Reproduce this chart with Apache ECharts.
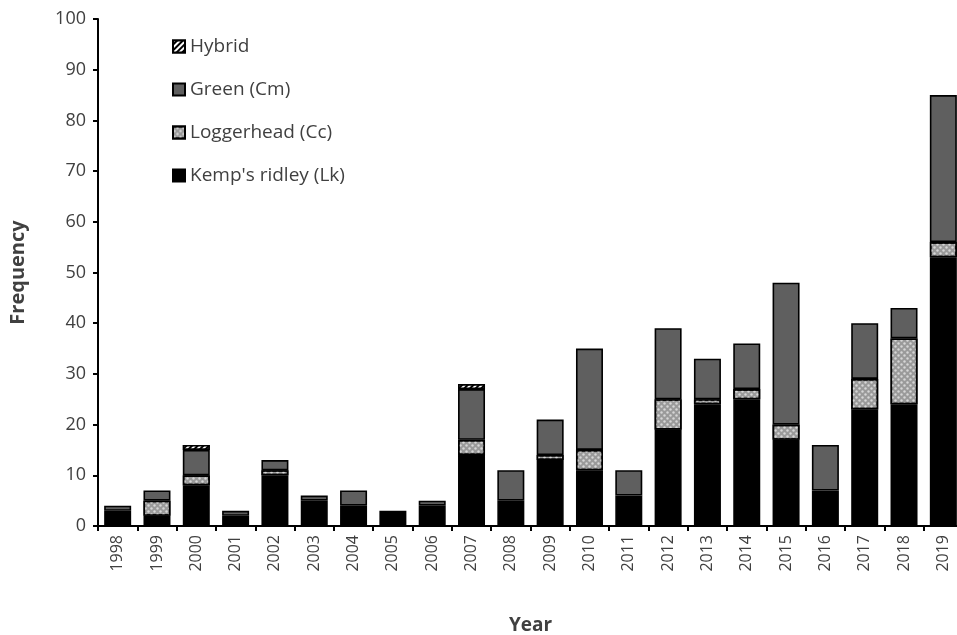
<!DOCTYPE html>
<html>
<head>
<meta charset="utf-8">
<style>
  html, body { margin: 0; padding: 0; background: #fff; }
  #chart { width: 957px; height: 635px; }
</style>
<script src="https://cdn.jsdelivr.net/npm/echarts@6/dist/echarts.min.js"></script>
</head>
<body>
<div id="chart"></div>
<script>
// Sea turtle strandings per year, by species
const years = ['1998','1999','2000','2001','2002','2003','2004','2005','2006','2007','2008',
               '2009','2010','2011','2012','2013','2014','2015','2016','2017','2018','2019'];
const kempsRidley = [3, 2, 8, 2, 10, 5, 4, 3, 4, 14, 5, 13, 11, 6, 19, 24, 25, 17, 7, 23, 24, 53];
const loggerhead  = [0, 3, 2, 0, 1, 0, 0, 0, 0, 3, 0, 1, 4, 0, 6, 1, 2, 3, 0, 6, 13, 3];
const green       = [1, 2, 5, 1, 2, 1, 3, 0, 1, 10, 6, 7, 20, 5, 14, 8, 9, 28, 9, 11, 6, 29];
const hybrid      = [0, 0, 1, 0, 0, 0, 0, 0, 0, 1, 0, 0, 0, 0, 0, 0, 0, 0, 0, 0, 0, 0];
const yTicks = { min: 0, max: 100, step: 10 };

const FONT = '"Open Sans", "Noto Sans", sans-serif';
const border = { borderColor: '#000', borderWidth: 1.6 };

function bar(name, data, style) {
  return {
    name: name,
    type: 'bar',
    stack: 'species',
    data: data.map(v => (v === 0 ? null : v)),
    barWidth: 27,
    itemStyle: Object.assign({}, border, style),
    emphasis: { disabled: true }
  };
}

const chart = echarts.init(document.getElementById('chart'), null, { renderer: 'canvas' });
chart.setOption({
  animation: false,
  aria: { enabled: false },
  grid: { left: 98, top: 19, width: 865, height: 507, containLabel: false, outerBoundsMode: 'none' },
  legend: {
    orient: 'vertical',
    left: 167,
    top: 32,
    itemWidth: 12,
    itemHeight: 12,
    itemGap: 24,
    icon: 'rect',
    data: ['Hybrid', 'Green (Cm)', 'Loggerhead (Cc)', "Kemp's ridley (Lk)"],
    textStyle: { fontFamily: FONT, fontSize: 19, color: '#404040' },
    selectedMode: false
  },
  xAxis: {
    type: 'category',
    data: years,
    name: 'Year',
    nameLocation: 'middle',
    nameGap: 90,
    nameTextStyle: { fontFamily: FONT, fontSize: 19, fontWeight: 'bold', color: '#404040' },
    axisLine: { lineStyle: { color: '#000', width: 2 } },
    axisTick: { show: true, length: 5, lineStyle: { color: '#000', width: 2 } },
    axisLabel: { rotate: 90, margin: 9, fontFamily: FONT, fontSize: 16, color: '#404040' }
  },
  yAxis: {
    type: 'value',
    min: yTicks.min,
    max: yTicks.max,
    interval: yTicks.step,
    name: 'Frequency',
    nameLocation: 'middle',
    nameGap: 70,
    nameTextStyle: { fontFamily: FONT, fontSize: 20, fontWeight: 'bold', color: '#404040' },
    axisLine: { show: true, lineStyle: { color: '#000', width: 2 } },
    axisTick: { show: true, length: 5, lineStyle: { color: '#000', width: 2 } },
    axisLabel: { margin: 12, fontFamily: FONT, fontSize: 18, color: '#404040' },
    splitLine: { show: false }
  },
  series: [
    bar("Kemp's ridley (Lk)", kempsRidley, { color: '#000' }),
    bar('Loggerhead (Cc)', loggerhead, {
      color: '#9a9a9a',
      decal: { symbol: 'circle', symbolSize: 0.8, color: '#d6d6d6',
               dashArrayX: [[3, 3], [0, 3, 3, 0]], dashArrayY: [3, 0], rotation: 0 }
    }),
    bar('Green (Cm)', green, { color: '#5f5f5f' }),
    bar('Hybrid', hybrid, {
      color: '#000',
      decal: { symbol: 'rect', symbolSize: 1, color: '#fff',
               dashArrayX: [1, 0], dashArrayY: [2, 2], rotation: -Math.PI / 4 }
    })
  ]
});
</script>
</body>
</html>
